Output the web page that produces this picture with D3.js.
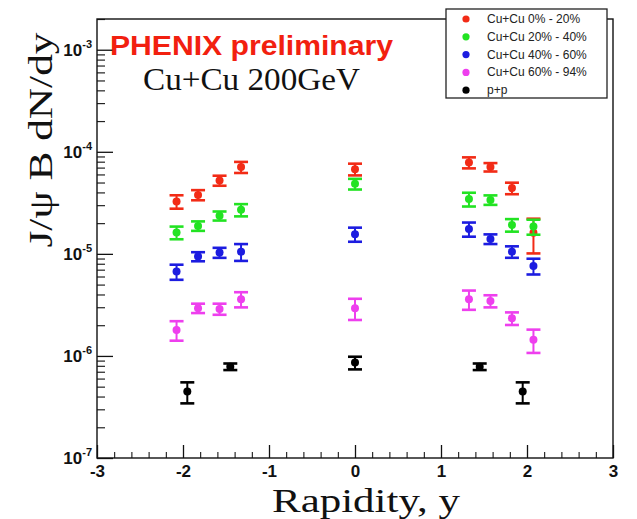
<!DOCTYPE html>
<html>
<head>
<meta charset="utf-8">
<script src="https://cdn.jsdelivr.net/npm/d3@7"></script>
<style>
  body { margin: 0; background: #fff; }
  svg { display: block; }
</style>
</head>
<body>
<div id="chart"></div>
<script>
// Data (J/psi B dN/dy vs rapidity)
const rapidityAA = [-2.075, -1.825, -1.575, -1.325, 0, 1.325, 1.575, 1.825, 2.075]
const rapidityPP = [-1.95, -1.45, 0, 1.45, 1.95]

const cu0to20     = [3.26e-5, 3.78e-5, 5.24e-5, 7.08e-5, 6.76e-5, 7.85e-5, 7.08e-5, 4.41e-5, 1.61e-5]
const cu0to20Err  = [0.49e-5, 0.43e-5, 0.59e-5, 0.88e-5, 0.89e-5, 0.97e-5, 0.67e-5, 0.57e-5, 0.60e-5]
const cu20to40    = [1.62e-5, 1.88e-5, 2.36e-5, 2.70e-5, 4.85e-5, 3.44e-5, 3.38e-5, 1.92e-5, 1.85e-5]
const cu20to40Err = [0.23e-5, 0.20e-5, 0.24e-5, 0.37e-5, 0.58e-5, 0.53e-5, 0.36e-5, 0.27e-5, 0.31e-5]
const cu40to60    = [6.70e-6, 9.42e-6, 1.03e-5, 1.05e-5, 1.56e-5, 1.75e-5, 1.40e-5, 1.05e-5, 7.62e-6]
const cu40to60Err = [1.13e-6, 0.96e-6, 1.16e-6, 1.97e-6, 2.46e-6, 2.77e-6, 1.52e-6, 1.35e-6, 1.34e-6]
const cu60to94    = [1.80e-6, 2.94e-6, 2.89e-6, 3.60e-6, 2.94e-6, 3.60e-6, 3.46e-6, 2.34e-6, 1.44e-6]
const cu60to94Err = [0.39e-6, 0.31e-6, 0.36e-6, 0.61e-6, 0.69e-6, 0.77e-6, 0.47e-6, 0.33e-6, 0.37e-6]
const ppValues    = [4.47e-7, 7.85e-7, 8.60e-7, 7.85e-7, 4.47e-7]
const ppErr       = [1.04e-7, 0.58e-7, 1.22e-7, 0.58e-7, 1.04e-7]

const seriesNames = ['Cu+Cu 0% - 20%', 'Cu+Cu 20% - 40%', 'Cu+Cu 40% - 60%', 'Cu+Cu 60% - 94%', 'p+p']
const seriesColors = ['#f22b16', '#22e322', '#1c1ce0', '#ee3fee', '#000000']

const xTickValues = [-3, -2, -1, 0, 1, 2, 3]
const yTickExponents = [-7, -6, -5, -4, -3]

function draw(){
    const series = [
        {x: rapidityAA, y: cu0to20, e: cu0to20Err},
        {x: rapidityAA, y: cu20to40, e: cu20to40Err},
        {x: rapidityAA, y: cu40to60, e: cu40to60Err},
        {x: rapidityAA, y: cu60to94, e: cu60to94Err},
        {x: rapidityPP, y: ppValues, e: ppErr}
    ].map((s, i) => ({
        name: seriesNames[i],
        color: seriesColors[i],
        points: s.x.map((x, j) => ({x: x, y: s.y[j], e: s.e[j]}))
    }))

    //Dimensions
    let dims = {
        width: 637,
        height: 519,
        margin: {top: 19, bottom: 61, left: 97, right: 24}
    }
    dims.ctrWidth = dims.width - dims.margin.left - dims.margin.right
    dims.ctrHeight = dims.height - dims.margin.top - dims.margin.bottom

    // Scales
    const xScale = d3.scaleLinear()
        .domain([-3, 3])
        .range([0, dims.ctrWidth])

    const yScale = d3.scaleLog()
        .domain([1e-7, 2e-3])
        .range([dims.ctrHeight, 0])

    const svg = d3.select('#chart')
        .append('svg')
        .attr('width', dims.width)
        .attr('height', dims.height)

    const ctr = svg.append('g')
        .attr('transform', `translate(${dims.margin.left}, ${dims.margin.top})`)

    // Axes (ticks point into the frame)
    const xMinor = d3.range(-3, 3.001, 0.2).map(v => +v.toFixed(1))
    ctr.append('g')
        .attr('transform', `translate(0, ${dims.ctrHeight})`)
        .call(d3.axisBottom(xScale).tickValues(xMinor).tickSize(-6).tickFormat(''))
        .call(g => g.select('.domain').remove())
    const xAxisGroup = ctr.append('g')
        .attr('transform', `translate(0, ${dims.ctrHeight})`)
        .call(d3.axisBottom(xScale).tickValues(xTickValues).tickSize(-13).tickPadding(7).tickFormat(d3.format('d')))
        .call(g => g.select('.domain').remove())
    xAxisGroup.selectAll('line').attr('stroke', '#111').attr('stroke-width', 1.3)
    xAxisGroup.selectAll('text')
        .attr('fill', '#111')
        .style('font-family', '"Liberation Sans", Arial, sans-serif')
        .style('font-weight', 'bold')
        .style('font-size', '17px')
        .text(d => d < 0 ? '-' + Math.abs(d) : d)

    const yMinor = []
    yTickExponents.slice(0, -1).forEach(p => {
        for (let k = 2; k <= 9; k++) yMinor.push(k * Math.pow(10, p))
    })
    yMinor.push(2e-3)
    ctr.append('g')
        .call(d3.axisLeft(yScale).tickValues(yMinor).tickSize(-8).tickFormat(''))
        .call(g => g.select('.domain').remove())
        .selectAll('line').attr('stroke', '#222').attr('stroke-width', 1.2)
    const yAxisGroup = ctr.append('g')
        .call(d3.axisLeft(yScale).tickValues(yTickExponents.map(p => Math.pow(10, p))).tickSize(-16).tickFormat(''))
        .call(g => g.select('.domain').remove())
    yAxisGroup.selectAll('line').attr('stroke', '#111').attr('stroke-width', 1.3)

    const yLabels = ctr.append('g')
        .style('font-family', '"Liberation Sans", Arial, sans-serif')
        .style('font-weight', 'bold')
        .attr('fill', '#111')
        .selectAll('text')
        .data(yTickExponents)
        .join('text')
        .attr('x', -5)
        .attr('y', d => yScale(Math.pow(10, d)) + 6)
        .attr('text-anchor', 'end')
    yLabels.append('tspan').text('10').style('font-size', '17px')
    yLabels.append('tspan').text(d => d).attr('dy', -8).style('font-size', '11px')

    // Frame
    ctr.append('rect')
        .attr('width', dims.ctrWidth)
        .attr('height', dims.ctrHeight)
        .attr('fill', 'none')
        .attr('stroke', '#111')
        .attr('stroke-width', 1.4)

    // Error bars and markers
    const capHalf = 7
    const groups = ctr.selectAll('g.series')
        .data(series)
        .join('g')
        .attr('class', 'series')
        .attr('stroke', d => d.color)
        .attr('fill', d => d.color)

    const pts = groups.selectAll('g.pt')
        .data(d => d.points)
        .join('g')
        .attr('class', 'pt')
        .attr('transform', d => `translate(${xScale(d.x)}, 0)`)

    pts.append('line')
        .attr('y1', d => yScale(d.y - d.e))
        .attr('y2', d => yScale(d.y + d.e))
        .attr('stroke-width', 2)
    pts.append('line')
        .attr('x1', -capHalf).attr('x2', capHalf)
        .attr('y1', d => yScale(d.y + d.e))
        .attr('y2', d => yScale(d.y + d.e))
        .attr('stroke-width', 2.6)
    pts.append('line')
        .attr('x1', -capHalf).attr('x2', capHalf)
        .attr('y1', d => yScale(d.y - d.e))
        .attr('y2', d => yScale(d.y - d.e))
        .attr('stroke-width', 2.6)
    pts.append('circle')
        .attr('cy', d => yScale(d.y))
        .attr('r', 4)
        .attr('stroke', 'none')

    // Titles
    svg.append('text')
        .text('PHENIX preliminary')
        .attr('x', 110)
        .attr('y', 55)
        .attr('fill', '#f2200f')
        .style('font-family', '"Liberation Sans", Arial, sans-serif')
        .style('font-weight', 'bold')
        .style('font-size', '27px')
        .attr('textLength', 283)
        .attr('lengthAdjust', 'spacingAndGlyphs')

    svg.append('text')
        .text('Cu+Cu 200GeV')
        .attr('x', 143)
        .attr('y', 90)
        .attr('fill', '#111')
        .style('font-family', '"Liberation Serif", "Times New Roman", serif')
        .style('font-size', '31px')
        .attr('textLength', 217)
        .attr('lengthAdjust', 'spacingAndGlyphs')

    svg.append('text')
        .text('Rapidity, y')
        .attr('x', 366)
        .attr('y', 512)
        .attr('text-anchor', 'middle')
        .attr('fill', '#111')
        .style('font-family', '"Liberation Serif", "Times New Roman", serif')
        .style('font-size', '34px')
        .attr('textLength', 188)
        .attr('lengthAdjust', 'spacingAndGlyphs')

    svg.append('text')
        .text('J/\u03c8 B dN/dy')
        .attr('transform', 'translate(52, 140) rotate(-90)')
        .attr('text-anchor', 'middle')
        .attr('fill', '#111')
        .style('font-family', '"Liberation Serif", "Times New Roman", serif')
        .style('font-size', '34px')
        .attr('textLength', 215)
        .attr('lengthAdjust', 'spacingAndGlyphs')

    // Legend
    const legend = svg.append('g')
        .attr('transform', 'translate(446, 9)')
    legend.append('rect')
        .attr('width', 161)
        .attr('height', 89)
        .attr('fill', '#fff')
        .attr('stroke', '#222')
        .attr('stroke-width', 1.3)
    const rows = legend.selectAll('g.row')
        .data(series)
        .join('g')
        .attr('class', 'row')
        .attr('transform', (d, i) => `translate(0, ${10 + i * 17.8})`)
    rows.append('circle')
        .attr('cx', 20)
        .attr('r', 3.6)
        .attr('fill', d => d.color)
    rows.append('text')
        .text(d => d.name)
        .attr('x', 41)
        .attr('y', 4)
        .attr('fill', '#222')
        .style('font-family', '"Liberation Sans", Arial, sans-serif')
        .style('font-size', '12px')
}
draw()
</script>
</body>
</html>
